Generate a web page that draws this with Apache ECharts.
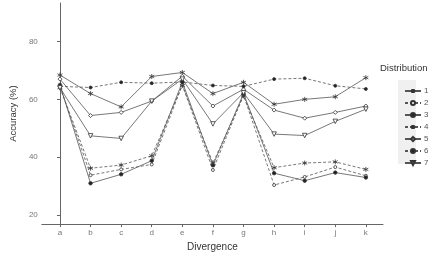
<!DOCTYPE html>
<html><head><meta charset="utf-8">
<script src="https://cdn.jsdelivr.net/npm/echarts@6/dist/echarts.min.js"></script>
<style>html,body{margin:0;padding:0;background:#fff}#c{width:433px;height:257px}</style>
</head><body><div id="c"></div>
<script>
const categories = ['a','b','c','d','e','f','g','h','i','j','k'];
const yTicks = [20, 40, 60, 80];
const seriesNames = ['1','2','3','4','5','6','7'];
const d1 = [68.4, 62.0, 57.4, 67.9, 69.3, 62.0, 65.9, 58.3, 60.0, 60.9, 67.5];
const d2 = [64.5, 33.8, 35.8, 37.5, 65.0, 35.6, 61.5, 30.4, 33.2, 36.6, 33.6];
const d3 = [65.0, 31.0, 34.1, 38.8, 66.0, 37.2, 62.0, 34.5, 31.9, 34.7, 33.0];
const d4 = [64.0, 36.2, 37.3, 40.5, 64.8, 38.0, 61.2, 36.4, 38.0, 38.4, 35.8];
const d5 = [67.0, 54.4, 55.5, 59.4, 68.0, 57.7, 63.5, 56.3, 53.5, 55.5, 57.7];
const d6 = [64.5, 64.1, 65.9, 65.6, 66.0, 64.8, 64.5, 67.0, 67.3, 64.7, 63.6];
const d7 = [64.0, 47.4, 46.5, 59.4, 67.0, 51.5, 62.3, 48.0, 47.5, 52.4, 56.6];

const allData = [d1, d2, d3, d4, d5, d6, d7];
const ast = 'path://M0,-1L0,1M-0.87,-0.5L0.87,0.5M-0.87,0.5L0.87,-0.5';
const tri = 'path://M-1,-0.8L1,-0.8L0,1Z';
const styles = [
  {dash:'solid', symbol:ast, size:5, fill:'#333'},
  {dash:[3,2], symbol:'circle', size:3, fill:'#fff'},
  {dash:'solid', symbol:'circle', size:3.5, fill:'#222'},
  {dash:[3,2], symbol:ast, size:5, fill:'#333'},
  {dash:'solid', symbol:'diamond', size:4, fill:'#fff'},
  {dash:[3,2], symbol:'circle', size:3, fill:'#222'},
  {dash:'solid', symbol:tri, size:4.5, fill:'#fff'}
];
const idx = categories.map((c, i) => i);
const series = allData.map((arr, s) => ({
  name: seriesNames[s],
  type: 'line',
  data: arr.map((v, i) => [idx[i], v]),
  symbol: styles[s].symbol,
  symbolSize: styles[s].size,
  showAllSymbol: true,
  lineStyle: {color: '#555', width: 0.8, type: styles[s].dash},
  itemStyle: {color: styles[s].fill, borderColor: '#333', borderWidth: 0.8},
  emphasis: {disabled: true},
  animation: false
}));

const chart = echarts.init(document.getElementById('c'), null, {renderer: 'canvas'});
chart.setOption({
  animation: false,
  grid: {left: 26, right: 50, top: 3, bottom: 28, containLabel: false},
  xAxis: {
    type: 'value', min: -0.594, max: 10.56,
    name: 'Divergence', nameLocation: 'middle', nameGap: 11,
    nameTextStyle: {color: '#333', fontSize: 10, fontFamily: 'Liberation Sans'},
    axisLine: {show: true, lineStyle: {color: '#666', width: 1}},
    axisTick: {show: true, length: 3, lineStyle: {color: '#666'}, customValues: idx},
    axisLabel: {customValues: idx, color: '#777', fontSize: 8, margin: 5, fontFamily: 'Liberation Sans',
      formatter: v => categories[Math.round(v)] ?? ''},
    splitLine: {show: false}
  },
  yAxis: {
    type: 'value', min: 16.9, max: 93.3,
    name: 'Accuracy (%)', nameLocation: 'middle', nameGap: 20,
    nameTextStyle: {color: '#333', fontSize: 9.5, fontFamily: 'Liberation Sans'},
    axisLine: {show: true, lineStyle: {color: '#666', width: 1}},
    axisTick: {show: true, length: 3, lineStyle: {color: '#666'}, customValues: yTicks},
    axisLabel: {customValues: yTicks, color: '#777', fontSize: 8, margin: 4, fontFamily: 'Liberation Sans'},
    splitLine: {show: false}
  },
  legend: {
    orient: 'vertical', left: 399, top: 81,
    itemWidth: 16, itemHeight: 5, itemGap: 2,
    textStyle: {color: '#555', fontSize: 8, lineHeight: 10, fontFamily: 'Liberation Sans', padding: [0,0,0,-2]},
    data: seriesNames
  },
  graphic: [
    {type: 'rect', left: 398, top: 80, shape: {width: 18, height: 84}, style: {fill: '#f0f0f0'}, z: -1},
    {type: 'text', left: 380, top: 63, style: {text: 'Distribution', fill: '#333', fontSize: 9.5, fontFamily: 'Liberation Sans'}}
  ],
  series: series
});
</script></body></html>
